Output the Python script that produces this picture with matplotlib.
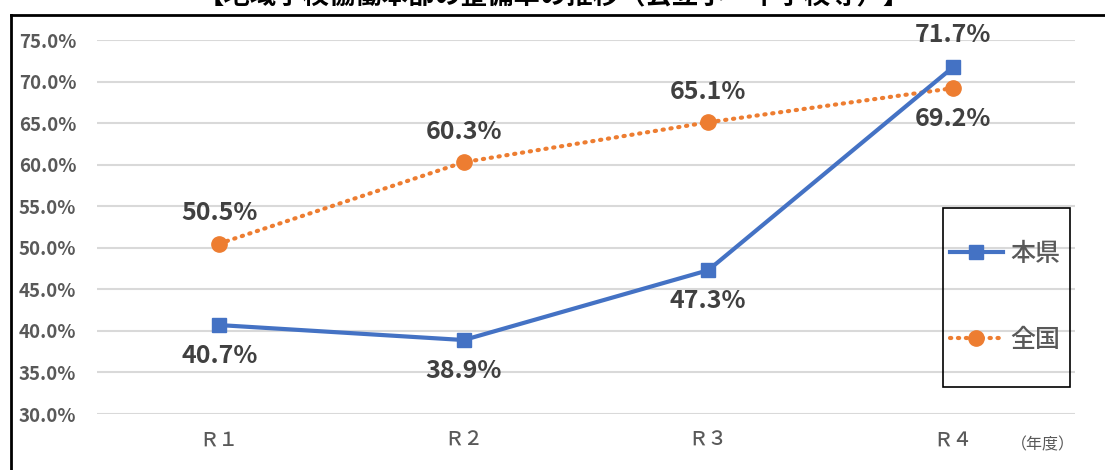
import matplotlib.pyplot as plt
from matplotlib.lines import Line2D
from matplotlib.patches import Rectangle

plt.rcParams['font.family'] = ['Noto Sans CJK JP', 'DejaVu Sans']

years = ['Ｒ１', 'Ｒ２', 'Ｒ３', 'Ｒ４']
pref = [40.7, 38.9, 47.3, 71.7]      # 本県
nation = [50.5, 60.3, 65.1, 69.2]    # 全国
pref_pos = ['below', 'below', 'below', 'above']
nation_pos = ['above', 'above', 'above', 'below']
yticks = [30, 35, 40, 45, 50, 55, 60, 65, 70, 75]

blue = '#4472C4'
orange = '#ED7D31'
txt = '#404040'
tick_c = '#595959'

W, H = 1105, 470
fig = plt.figure(figsize=(W / 100, H / 100), dpi=100)
ax = fig.add_axes([97 / W, 1 - 414 / H, (1075 - 97) / W, (414 - 40) / H])

x = range(len(years))
ax.plot(x, nation, color=orange, lw=3, ls=(0, (0.3, 1.6)), dash_capstyle='round',
        marker='o', ms=11, clip_on=False, zorder=3)
ax.plot(x, pref, color=blue, lw=3, marker='s', ms=10.5, clip_on=False, zorder=4)

for i, v in enumerate(pref):
    dy = 23 if pref_pos[i] == 'above' else -22
    ax.annotate(f'{v:.1f}%', (i, v), xytext=(0, dy), textcoords='offset points',
                ha='center', va='center', fontsize=18, fontweight='bold', color=txt)
for i, v in enumerate(nation):
    dy = 22 if nation_pos[i] == 'above' else -22
    ax.annotate(f'{v:.1f}%', (i, v), xytext=(0, dy), textcoords='offset points',
                ha='center', va='center', fontsize=18, fontweight='bold', color=txt)

ax.set_xlim(-0.5, 3.5)
ax.set_ylim(30, 75)
ax.set_yticks(yticks)
ax.set_yticklabels([f'{t:.1f}%' for t in yticks], fontsize=13.5, fontweight='bold', color=tick_c)
ax.set_xticks(list(x))
ax.set_xticklabels(years, fontsize=14, fontweight='medium', color=tick_c)
ax.tick_params(axis='y', length=0, pad=15)
ax.tick_params(axis='x', length=0, pad=12)
ax.grid(axis='y', color='#D9D9D9', lw=1.5)
ax.set_axisbelow(True)
for s in ax.spines.values():
    s.set_visible(False)

fig.text(1075 / W, 1 - 445 / H, '（年度）', fontsize=11.5, color=tick_c, ha='right', va='center')

# title, cut off at the top edge like the source
fig.text(554 / W, 1 + 3 / H, '【地域学校協働本部の整備率の推移（公立小・中学校等）】',
         fontsize=19, fontweight='bold', color='black', ha='center', va='center')

# outer frame (left and top edges only are visible)
fig.add_artist(Line2D([11 / W, 11 / W], [0, 1 - 15 / H], color='black', lw=2))
fig.add_artist(Line2D([11 / W, 1], [1 - 15 / H, 1 - 15 / H], color='black', lw=2))

# legend box
fig.add_artist(Rectangle((943 / W, 1 - 387 / H), 127 / W, 179 / H, fill=False,
                         edgecolor='black', lw=1.2))
handles = [Line2D([], [], color=blue, lw=3, marker='s', ms=10.5),
           Line2D([], [], color=orange, lw=3, ls=(0, (0.3, 1.6)), dash_capstyle='round',
                  marker='o', ms=11)]
fig.legend(handles, ['本県', '全国'], loc='center', bbox_to_anchor=(1005 / W, 1 - 297 / H),
           frameon=False, fontsize=18, labelspacing=2.4, handlelength=2.1,
           handletextpad=0.3, labelcolor=tick_c, prop={'weight': 'medium', 'size': 18})

fig.savefig('out.png', dpi=100)
